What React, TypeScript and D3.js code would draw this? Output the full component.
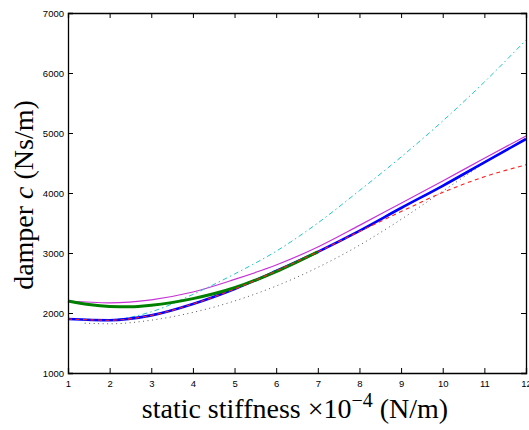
import React, { useEffect, useRef } from 'react';
import * as d3 from 'd3';

// stiffness (x 10^-4 N/m) and damper values
const stiffness = [1, 2, 3, 4, 5, 6, 7, 8, 9, 10, 11, 12];
const blueDamper = [1900, 1880, 1960, 2150, 2400, 2700, 3020, 3370, 3750, 4120, 4510, 4900];
const redDamper = [1900, 1880, 1960, 2150, 2400, 2700, 3020, 3360, 3690, 4010, 4270, 4470];
const magentaDamper = [2200, 2170, 2220, 2350, 2560, 2800, 3100, 3460, 3830, 4200, 4580, 4950];
const cyanDamper = [1900, 1890, 2020, 2310, 2650, 3030, 3500, 4040, 4600, 5200, 5850, 6550];

const greenStiffness = [1, 1.5, 2, 2.5, 3, 4, 5, 6, 7];
const greenDamper = [2200, 2140, 2110, 2105, 2130, 2240, 2420, 2690, 3020];

const dottedStiffness = [1.4, 2, 3, 4, 5, 6, 7, 8, 9, 10, 11];
const dottedDamper = [1830, 1820, 1880, 2010, 2200, 2450, 2760, 3130, 3560, 4030, 4500];

const xTicks = [1, 2, 3, 4, 5, 6, 7, 8, 9, 10, 11, 12];
const yTicks = [1000, 2000, 3000, 4000, 5000, 6000, 7000];

function App() {
  const svgRef = useRef(null);

  useEffect(() => {
    const width = 529;
    const height = 430;
    const margin = { top: 13, right: 3, bottom: 57, left: 68 };

    const x = d3.scaleLinear().domain([1, 12]).range([margin.left, width - margin.right]);
    const y = d3.scaleLinear().domain([1000, 7000]).range([height - margin.bottom, margin.top]);

    const svg = d3.select(svgRef.current);
    svg.selectAll('*').remove();

    const plot = svg.append('g');

    const line = d3.line()
      .x(d => x(d[0]))
      .y(d => y(d[1]))
      .curve(d3.curveMonotoneX);

    const series = [
      { xs: dottedStiffness, ys: dottedDamper, color: '#555', w: 1, dash: '1,3.5' },
      { xs: stiffness, ys: magentaDamper, color: '#c633d6', w: 1.2, dash: null },
      { xs: stiffness, ys: cyanDamper, color: '#22c4d0', w: 1, dash: '5,3,1.5,3' },
      { xs: stiffness, ys: blueDamper, color: '#0000ff', w: 2.6, dash: null },
      { xs: greenStiffness, ys: greenDamper, color: '#008000', w: 3, dash: null },
      { xs: stiffness, ys: redDamper, color: '#ff2020', w: 1.1, dash: '4,3.5' },
    ];

    series.forEach(s => {
      const pts = s.xs.map((v, i) => [v, s.ys[i]]);
      plot.append('path')
        .datum(pts)
        .attr('d', line)
        .attr('fill', 'none')
        .attr('stroke', s.color)
        .attr('stroke-width', s.w)
        .attr('stroke-dasharray', s.dash);
    });

    const tickFont = '"Liberation Sans", Arial, sans-serif';

    // bottom axis with inward ticks
    const bottom = svg.append('g')
      .attr('transform', `translate(0, ${y(1000)})`)
      .call(d3.axisBottom(x).tickValues(xTicks).tickSize(-5).tickPadding(7).tickFormat(d3.format('d')));
    const top = svg.append('g')
      .attr('transform', `translate(0, ${y(7000)})`)
      .call(d3.axisTop(x).tickValues(xTicks).tickSize(-5).tickFormat(() => ''));
    const left = svg.append('g')
      .attr('transform', `translate(${x(1)}, 0)`)
      .call(d3.axisLeft(y).tickValues(yTicks).tickSize(-5).tickPadding(4).tickFormat(d3.format('d')));
    const right = svg.append('g')
      .attr('transform', `translate(${x(12)}, 0)`)
      .call(d3.axisRight(y).tickValues(yTicks).tickSize(-5).tickFormat(() => ''));

    [bottom, top, left, right].forEach(g => {
      g.select('.domain').attr('stroke', '#000').attr('stroke-width', 1.3);
      g.selectAll('.tick line').attr('stroke', '#000').attr('stroke-width', 1);
      g.selectAll('.tick text')
        .attr('font-family', tickFont)
        .attr('font-size', 9.5)
        .attr('fill', '#000');
    });

    const serif = '"Liberation Serif", "Times New Roman", serif';

    const xl = svg.append('text')
      .attr('x', 295)
      .attr('y', 418)
      .attr('text-anchor', 'middle')
      .attr('font-family', serif)
      .attr('font-size', 28)
      .attr('fill', '#000');
    xl.append('tspan').text('static stiffness \u00d710');
    xl.append('tspan').attr('dy', -11).attr('font-size', 20).text('\u22124');
    xl.append('tspan').attr('dy', 11).text(' (N/m)');

    const yl = svg.append('text')
      .attr('transform', 'translate(33, 195) rotate(-90)')
      .attr('text-anchor', 'middle')
      .attr('font-family', serif)
      .attr('font-size', 28)
      .attr('fill', '#000');
    yl.append('tspan').text('damper ');
    yl.append('tspan').attr('font-style', 'italic').text('c');
    yl.append('tspan').text(' (Ns/m)');
  }, []);

  return (
    <svg
      ref={svgRef}
      width={529}
      height={430}
      style={{ position: 'absolute', left: 0, top: 0, background: '#fff' }}
    ></svg>
  );
}

export default App;
